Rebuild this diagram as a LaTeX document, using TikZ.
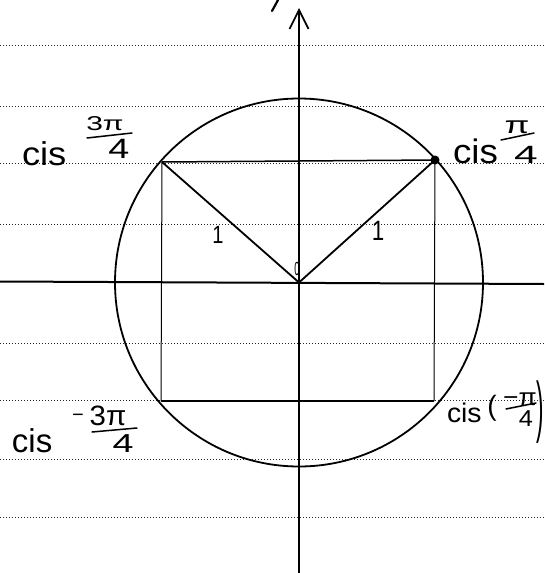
\documentclass[tikz,border=0pt]{standalone}
\usepackage{fontspec}
\usepackage{graphicx}
\setmainfont{Liberation Sans}
\usetikzlibrary{arrows.meta}
\newcommand{\handtxt}[3]{\fontsize{#1}{#1}\selectfont\scalebox{#2}[1]{#3}}
\begin{document}
\begin{tikzpicture}[x=1pt,y=-1pt,
  rule/.style={black!85, line width=0.9pt, dash pattern=on 0.9pt off 2.1pt},
  axisline/.style={line width=2pt},
  circleline/.style={line width=1.8pt},
  boxh/.style={line width=1.5pt},
  boxv/.style={line width=1.0pt},
  radiusline/.style={line width=1.8pt},
  fracbar/.style={line width=1.5pt, line cap=round},
  hand/.style={inner sep=0pt, outer sep=0pt}]
\useasboundingbox (0,0) rectangle (544,573);
\clip (0,0) rectangle (544,573);
\fill[white] (0,0) rectangle (544,573);

% ruled paper lines
\foreach \yy in {45,106,163,224,343,400,459,517}
  \draw[rule] (0,\yy) -- (544,\yy);

% key points
\coordinate (O) at (299,282.5);
\coordinate (P1) at (435,160);
\coordinate (P2) at (162,162);
\coordinate (P3) at (161,401);
\coordinate (P4) at (434,401);
\coordinate (yb) at (299,573);
\coordinate (yt) at (299,8);
\coordinate (xl) at (0,281.5);
\coordinate (xr) at (544,284);

% axes
\draw[axisline] (xl) -- (xr);
\draw[axisline, -{Straight Barb[length=19pt,width=19pt,line width=1.7pt]}] (yb) -- (yt);
\coordinate (s1) at (272,11);
\coordinate (s2) at (278,0);
\draw[line width=2.2pt, line cap=round] (s1) -- (s2);

% circle
\draw[circleline] (O) circle[radius=184];

% rectangle
\draw[boxh] (P2) -- (P1);
\draw[boxh] (P3) -- (P4);
\draw[boxv] (P2) -- (P3);
\draw[boxv] (P1) -- (P4);

% radii
\draw[radiusline] (O) -- (P1);
\draw[radiusline] (O) -- (P2);
\fill (P1) circle[radius=4.5];

% labels "1" and "0"
\node[hand, anchor=base] (one1) at (218,243) {\handtxt{25}{0.8}{1}};
\node[hand, anchor=base] (one2) at (378,240) {\handtxt{28}{0.8}{1}};
\node[hand, anchor=base] (zero) at (297,275) {\handtxt{19}{0.5}{0}};

% cis 3pi/4 (top left)
\node[hand, anchor=base west] (c1) at (22,165) {\handtxt{33}{1.1}{cis}};
\node[hand, anchor=base] (n1) at (105,130) {\handtxt{20}{1.5}{3π}};
\coordinate (b1a) at (87,138);
\coordinate (b1b) at (132,133);
\draw[fracbar] (b1a) -- (b1b);
\node[hand, anchor=base] (d1) at (119,158) {\handtxt{28}{1.35}{4}};

% cis pi/4 (top right)
\node[hand, anchor=base west] (c2) at (453,163) {\handtxt{34}{1.08}{cis}};
\node[hand, anchor=base] (n2) at (517,133) {\handtxt{24}{1.5}{π}};
\coordinate (b2a) at (501,140);
\coordinate (b2b) at (534,133);
\draw[fracbar] (b2a) -- (b2b);
\node[hand, anchor=base] (d2) at (526,163) {\handtxt{25}{1.7}{4}};

% cis -3pi/4 (bottom left)
\node[hand, anchor=base west] (c3) at (12,452) {\handtxt{33}{1.0}{cis}};
\node[hand] (m3) at (78,418) {\handtxt{20}{1.0}{−}};
\node[hand, anchor=base] (n3) at (108,425) {\handtxt{28}{1.05}{3π}};
\coordinate (b3a) at (92,432);
\coordinate (b3b) at (137,428);
\draw[fracbar] (b3a) -- (b3b);
\node[hand, anchor=base] (d3) at (123,452) {\handtxt{26}{1.45}{4}};

% cis(-pi/4) (bottom right)
\node[hand, anchor=base west] (c4) at (447,422) {\handtxt{27}{1.05}{cis}};
\node[hand] (p4a) at (492,408) {\handtxt{28}{1.0}{(}};
\node[hand, anchor=base] (n4) at (520,405) {\handtxt{24}{1.1}{−π}};
\coordinate (b4a) at (506,409);
\coordinate (b4b) at (536,403);
\draw[fracbar] (b4a) -- (b4b);
\node[hand, anchor=base] (d4) at (526,426) {\handtxt{23}{1.1}{4}};
\node[hand, anchor=east] (p4b) at (544,412) {\fontsize{28}{28}\selectfont\scalebox{0.8}[2.4]{)}};
\end{tikzpicture}
\end{document}
